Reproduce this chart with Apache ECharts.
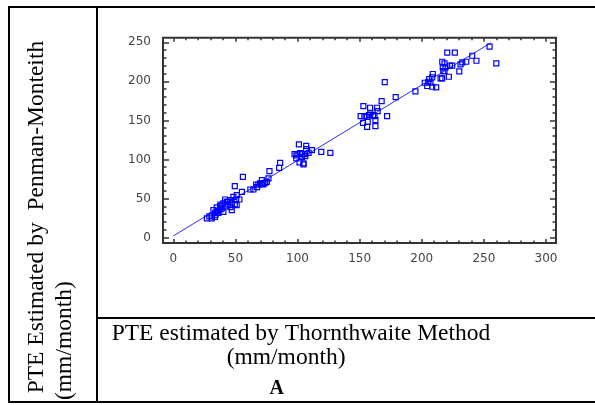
<!DOCTYPE html>
<html><head><meta charset="utf-8">
<script src="https://cdn.jsdelivr.net/npm/echarts@6/dist/echarts.min.js"></script>
<style>html,body{margin:0;padding:0;background:#fff}#c{width:595px;height:405px}</style>
</head><body><div id="c"></div>
<script>
// PTE estimated by Thornthwaite (x) vs Penman-Monteith (y), mm/month
const thornX = [
  29,27,31,33.6,32.3,33.6,36.3,35,37.7,39,40.3,40.3,43.1,45.7,47.1,47.1,49.5,41.7,48.4,51.1,53.2,55.2,49.5,56,34,36,38,42,44,46,38,44,50.6,35,31,51,
  62,64.5,66.7,67.5,68.5,69.9,71.3,71.8,71.3,72.6,74,75.3,76.6,77.4,85.2,86,97.6,99,100,101.1,101.6,103.5,103.5,104.8,104.8,106.2,106.2,107,107,108.9,111.6,119.1,126.4,99,102,
  153,158.4,164,164.5,158.6,157.6,160.8,150.8,153.8,156,161.9,162.7,152.7,156.5,156,162.7,167.7,172.1,170.2,179,194.9,
  202.4,205.2,206,207,204.4,208.4,211.6,208.9,208.4,215.1,216.5,218.3,216.9,219.1,217.3,218.3,221.8,222.6,220.5,226.6,230.2,231.2,232.6,235.8,240.6,244,254.6,260,224.5,216.4
];
const penmanY = [
  27,24.5,24.5,26.4,35,31.5,31.5,38.5,40.1,37.2,32.8,43.6,45.6,47.8,43.6,35,42.7,48.7,52.1,54.2,48.7,58.5,65.8,77.7,29,34,36,40,42,39,42,46,48.7,33,28,41.4,
  61.5,61.5,67.9,64.5,67.9,69.2,69.2,67.9,73.5,68.3,70,71.3,75.6,85,89.2,95.6,106.8,101.3,106.8,119.2,96.2,106.8,103.3,94.9,93.6,106.8,104.2,117.4,113.2,108.5,111.9,109.7,108.5,105,108,
  168.3,166.2,166.2,161.9,159,156.8,156.8,155.5,155.5,154.6,155.5,150.4,146.9,148.2,141.8,142.7,174.7,155.5,199.1,179.9,187.2,
  198.2,199.5,202.9,198.2,194,193.1,192.3,209.4,205.1,203.8,225.1,223,217.9,217.9,213.2,213.2,205.9,220,236.7,236.7,212.8,221.8,224.3,225.1,232.8,226.4,244.4,223,220,203.8
];
// fitted line end points
const fitX = [0, 255.7];
const fitY = [2, 249.4];
// axis ranges / ticks
const xTicks = [0, 300, 50];
const yTicks = [0, 250, 50];

const points = thornX.map((x, i) => [x, penmanY[i]]);
const fitLine = fitX.map((x, i) => [x, fitY[i]]);

const tickColor = '#333';
function xAx(pos, off, labels) {
  return {
    gridIndex: 1, type: 'value', min: xTicks[0], max: xTicks[1], interval: xTicks[2],
    position: pos, offset: off,
    axisLine: { show: false, onZero: false },
    axisTick: { show: true, inside: true, length: 4, lineStyle: { color: tickColor, width: 1.5 } },
    minorTick: { show: true, splitNumber: 5, length: 2.5, lineStyle: { color: tickColor, width: 1.5 } },
    splitLine: { show: false },
    axisLabel: { show: labels, margin: 10, color: '#444', fontSize: 12, fontFamily: 'DejaVu Sans' }
  };
}
function yAx(pos, off, labels) {
  return {
    gridIndex: 1, type: 'value', min: yTicks[0], max: yTicks[1], interval: yTicks[2],
    position: pos, offset: off,
    axisLine: { show: false, onZero: false },
    axisTick: { show: true, inside: true, length: 6, lineStyle: { color: tickColor, width: 1.5 } },
    minorTick: { show: true, splitNumber: 5, length: 3.5, lineStyle: { color: tickColor, width: 1.5 } },
    splitLine: { show: false },
    axisLabel: { show: labels, margin: 12, color: '#444', fontSize: 12, fontFamily: 'DejaVu Sans' }
  };
}

const serif = '"Liberation Serif", "Times New Roman", serif';
const option = {
  animation: false,
  backgroundColor: '#fff',
  grid: [
    { left: 163, right: 39, top: 37.7, bottom: 162, show: true, borderColor: '#333', borderWidth: 2, backgroundColor: 'transparent' },
    { left: 173.3, right: 49, top: 42.3, bottom: 167.5 }
  ],
  xAxis: [
    { gridIndex: 0, type: 'value', show: false, min: 0, max: 1 },
    xAx('bottom', 5.5, true),
    xAx('top', 4.6, false)
  ],
  yAxis: [
    { gridIndex: 0, type: 'value', show: false, min: 0, max: 1 },
    yAx('left', 10.3, true),
    yAx('right', 10, false)
  ],
  series: [
    {
      type: 'line', xAxisIndex: 1, yAxisIndex: 1, data: fitLine,
      symbol: 'none', lineStyle: { color: '#2a2aff', width: 1 }, z: 2, silent: true
    },
    {
      type: 'scatter', xAxisIndex: 1, yAxisIndex: 1, data: points,
      symbol: 'rect', symbolSize: 5,
      itemStyle: { color: 'transparent', borderColor: '#0000ff', borderWidth: 1.2, opacity: 1 },
      z: 3, silent: true
    }
  ],
  graphic: [
    { type: 'line', shape: { x1: 8, y1: 7, x2: 595, y2: 7 }, style: { stroke: '#000', lineWidth: 2 } },
    { type: 'line', shape: { x1: 9, y1: 6, x2: 9, y2: 403 }, style: { stroke: '#000', lineWidth: 2 } },
    { type: 'line', shape: { x1: 97, y1: 6, x2: 97, y2: 403 }, style: { stroke: '#000', lineWidth: 2 } },
    { type: 'line', shape: { x1: 97, y1: 318, x2: 595, y2: 318 }, style: { stroke: '#000', lineWidth: 2 } },
    { type: 'line', shape: { x1: 8, y1: 402, x2: 595, y2: 402 }, style: { stroke: '#000', lineWidth: 2 } },
    { type: 'text', x: 37, y: 393.3, rotation: Math.PI / 2,
      style: { text: 'PTE Estimated by  Penman-Monteith', font: '23.5px ' + serif, fill: '#000', textAlign: 'left', textVerticalAlign: 'middle' } },
    { type: 'text', x: 65, y: 400, rotation: Math.PI / 2,
      style: { text: '(mm/month)', font: '23.5px ' + serif, fill: '#000', textAlign: 'left', textVerticalAlign: 'middle' } },
    { type: 'text', x: 111.7, y: 333.7,
      style: { text: 'PTE estimated by Thornthwaite Method', font: '23.5px ' + serif, fill: '#000', textAlign: 'left', textVerticalAlign: 'middle' } },
    { type: 'text', x: 226.7, y: 357.7,
      style: { text: '(mm/month)', font: '23.5px ' + serif, fill: '#000', textAlign: 'left', textVerticalAlign: 'middle' } },
    { type: 'text', x: 276.7, y: 389,
      style: { text: 'A', font: 'bold 20px ' + serif, fill: '#000', textAlign: 'center', textVerticalAlign: 'middle' } }
  ]
};
const chart = echarts.init(document.getElementById('c'), null, { renderer: 'canvas' });
chart.setOption(option);
</script>
</body></html>
